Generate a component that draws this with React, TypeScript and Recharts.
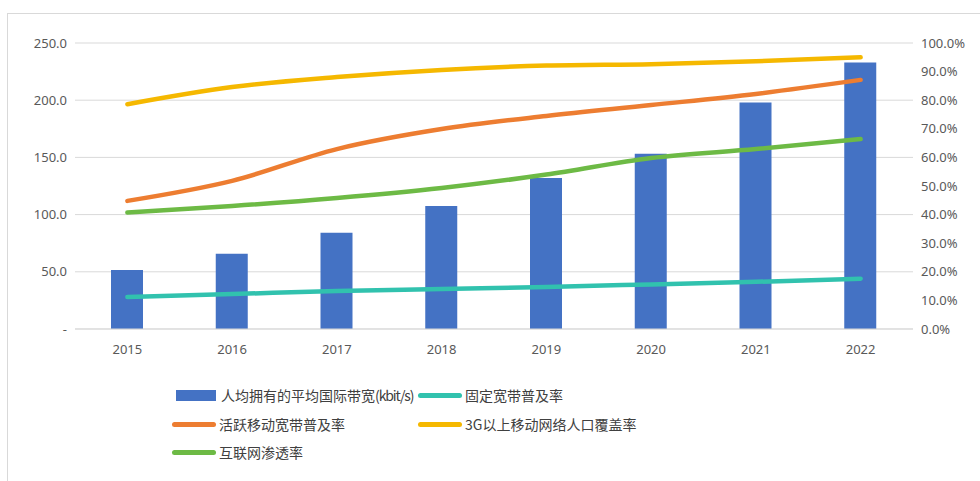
import {
  Bar,
  CartesianGrid,
  ComposedChart,
  Legend,
  Line,
  XAxis,
  YAxis,
} from "recharts";

const years = ["2015", "2016", "2017", "2018", "2019", "2020", "2021", "2022"];
// 人均拥有的平均国际带宽 (kbit/s), left axis
const bandwidth = [51.6, 65.8, 84.2, 107.6, 132.0, 153.2, 198.0, 233.0];
// penetration rates in %, right axis
const fixedBroadband = [11.2, 12.2, 13.3, 14.0, 14.7, 15.6, 16.5, 17.6];
const mobileBroadband = [44.8, 51.8, 62.9, 69.9, 74.5, 78.3, 82.2, 87.1];
const coverage3g = [78.6, 84.6, 88.1, 90.6, 92.1, 92.6, 93.6, 95.0];
const internet = [40.7, 43.0, 45.8, 49.3, 54.0, 59.8, 62.9, 66.4];

const leftTicks = [0, 50, 100, 150, 200, 250];
const rightTicks = [0, 10, 20, 30, 40, 50, 60, 70, 80, 90, 100];

const data = years.map((y, i) => ({
  year: y,
  bw: bandwidth[i],
  fixed: fixedBroadband[i],
  mobile: mobileBroadband[i],
  g3: coverage3g[i],
  net: internet[i],
}));

const BLUE = "#4472C4";
const TEAL = "#31C2AE";
const ORANGE = "#ED7D31";
const YELLOW = "#F5B800";
const GREEN = "#6DBA45";
const TICK = { fill: "#595959", fontSize: 13, fontFamily: "Noto Sans" };

const LEGEND = [
  { name: "人均拥有的平均国际带宽", unit: "(kbit/s)", color: BLUE, type: "bar", x: 166, y: 36 },
  { name: "固定宽带普及率", color: TEAL, type: "line", x: 410, y: 36 },
  { name: "活跃移动宽带普及率", color: ORANGE, type: "line", x: 164, y: 65 },
  { name: "3G以上移动网络人口覆盖率", color: YELLOW, type: "line", x: 410, y: 65 },
  { name: "互联网渗透率", color: GREEN, type: "line", x: 164, y: 93 },
];

function LegendBox() {
  return (
    <div style={{ position: "relative", width: 964, height: 110 }}>
      {LEGEND.map((l) => (
        <div
          key={l.name}
          style={{
            position: "absolute",
            left: l.x,
            top: l.y - 10,
            height: 20,
            display: "flex",
            alignItems: "center",
            whiteSpace: "nowrap",
            fontFamily: "'Noto Sans CJK SC', 'Noto Sans'",
            fontSize: 14,
            color: "#404040",
          }}
        >
          {l.type === "bar" ? (
            <span style={{ width: 40, height: 11, background: l.color, marginRight: 5, marginLeft: 2 }} />
          ) : (
            <span
              style={{ width: 44, height: 5, borderRadius: 3, background: l.color, marginRight: 3 }}
            />
          )}
          {l.name}
          {l.unit && <span style={{ letterSpacing: -1.1 }}>{l.unit}</span>}
        </div>
      ))}
    </div>
  );
}

export default function App() {
  return (
    <div
      style={{
        position: "fixed",
        left: 0,
        top: 0,
        width: 980,
        height: 481,
        overflow: "hidden",
        background: "#fff",
      }}
    >
      <div
        style={{
          position: "absolute",
          left: 7,
          top: 13,
          width: 1000,
          height: 500,
          border: "1px solid #d9d9d9",
        }}
      />
      <div style={{ position: "absolute", left: 8, top: 8 }}>
        <ComposedChart
          width={964}
          height={473}
          data={data}
          margin={{ top: 35, right: 0, left: 0, bottom: 12 }}
        >
          <CartesianGrid stroke="#d9d9d9" vertical={false} yAxisId="left" />
          <XAxis
            dataKey="year"
            tick={TICK}
            tickLine={false}
            axisLine={{ stroke: "#d9d9d9" }}
            tickMargin={10}
            height={30}
          />
          <YAxis
            yAxisId="left"
            domain={[0, 250]}
            ticks={leftTicks}
            tick={TICK}
            tickLine={false}
            axisLine={false}
            width={67}
            tickFormatter={(v) => (v === 0 ? "-" : v.toFixed(1))}
          />
          <YAxis
            yAxisId="right"
            orientation="right"
            domain={[0, 100]}
            ticks={rightTicks}
            tick={{ ...TICK, textAnchor: "start" }}
            tickLine={false}
            axisLine={false}
            width={59}
            tickFormatter={(v) => `${v.toFixed(1)}%`}
          />
          <Legend
            verticalAlign="bottom"
            content={() => <LegendBox />}
            wrapperStyle={{ left: 0, width: 964, paddingTop: 0 }}
          />
          <Bar yAxisId="left" dataKey="bw" fill={BLUE} barSize={32} isAnimationActive={false} />
          <Line yAxisId="right" type="monotone" dataKey="fixed" stroke={TEAL} strokeWidth={4.5} strokeLinecap="round" dot={false} isAnimationActive={false} />
          <Line yAxisId="right" type="monotone" dataKey="mobile" stroke={ORANGE} strokeWidth={4.5} strokeLinecap="round" dot={false} isAnimationActive={false} />
          <Line yAxisId="right" type="monotone" dataKey="g3" stroke={YELLOW} strokeWidth={4.5} strokeLinecap="round" dot={false} isAnimationActive={false} />
          <Line yAxisId="right" type="monotone" dataKey="net" stroke={GREEN} strokeWidth={4.5} strokeLinecap="round" dot={false} isAnimationActive={false} />
        </ComposedChart>
      </div>
    </div>
  );
}
